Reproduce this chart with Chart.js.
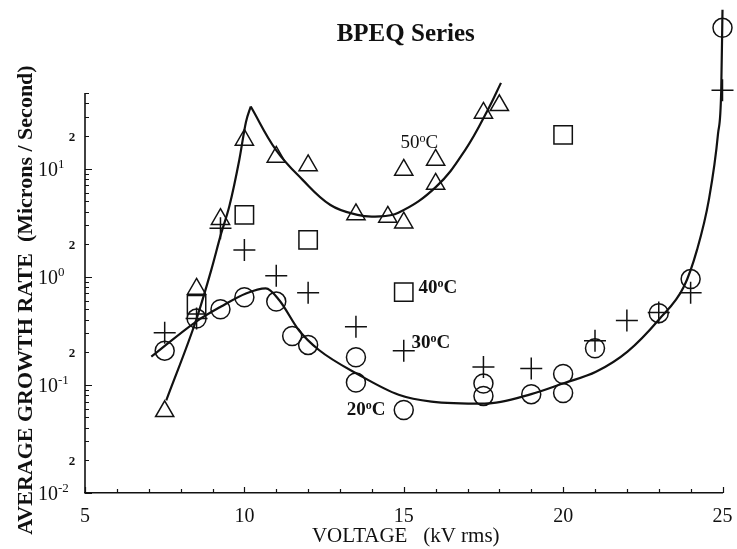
<!DOCTYPE html>
<html>
<head>
<meta charset="utf-8">
<title>BPEQ Series</title>
<script src="https://cdn.jsdelivr.net/npm/chart.js@4/dist/chart.umd.min.js"></script>
<style>
  html, body { margin: 0; padding: 0; background: #fff; }
  #wrap { width: 737px; height: 549px; }
</style>
</head>
<body>
<div id="wrap"><canvas id="growthChart" width="737" height="549"></canvas></div>
<script>
/* ===============================
   DATA
================================ */
// 50 C - triangles
const x50 = [7.5, 8.5, 9.25, 10, 11, 12, 13.5, 14.5, 15, 15, 16, 16, 17.5, 18];
const y50 = [0.057, 0.77, 3.4, 18.4, 12.8, 10.7, 3.77, 3.57, 3.16, 9.7, 12.0, 7.2, 32.7, 38.4];

// 40 C - squares
const x40 = [8.5, 10, 12, 15, 20];
const y40 = [0.55, 3.73, 2.19, 0.72, 20.5];

// 30 C - crosses
const x30 = [7.5, 8.5, 9.25, 10, 11, 12, 13.5, 15, 17.5, 19, 21, 22, 23, 24, 25];
const y30 = [0.304, 0.41, 2.8, 1.77, 1.02, 0.71, 0.345, 0.207, 0.146, 0.142, 0.256, 0.393, 0.466, 0.71, 53];

// 20 C - circles
const x20 = [7.5, 8.5, 9.25, 10, 11, 11.5, 12, 13.5, 13.5, 15, 17.5, 17.5, 19, 20, 20, 21, 23, 24, 25];
const y20 = [0.207, 0.41, 0.50, 0.646, 0.589, 0.283, 0.234, 0.18, 0.105, 0.0586, 0.103, 0.079, 0.082, 0.126, 0.084, 0.218, 0.46, 0.95, 200];

// fitted curves
const fit50LeftX = [7.55, 8.49, 8.96, 9.27, 9.53, 9.84, 10.05, 10.2];
const fit50LeftY = [0.072, 0.40, 1.15, 2.5, 4.5, 12, 27, 37.5];
const fit50RightX = [10.2, 10.99, 11.82, 12.7, 13.55, 14.1, 14.83, 16.02, 16.93, 17.64, 18.05];
const fit50RightY = [37.5, 14.9, 7.9, 4.6, 3.73, 3.6, 3.9, 6.8, 14.9, 35, 62];
const fit20X = [7.08, 8.49, 9.27, 10.05, 10.67, 11.09, 11.71, 12.34, 13.59, 14.84, 15.87, 17.54,
                19.0, 20.04, 21.03, 22.02, 23.0, 23.79, 24.2, 24.57, 24.86, 24.96, 25.0];
const fit20Y = [0.182, 0.385, 0.53, 0.70, 0.78, 0.61, 0.32, 0.21, 0.124, 0.081, 0.070, 0.067,
                0.082, 0.104, 0.132, 0.203, 0.40, 0.81, 1.77, 5.1, 21, 53, 294];

// axes
const xTickLabels = [5, 10, 15, 20, 25];
const yDecades = [-2, -1, 0, 1];
const yMin = 0.01;
const yAxisTop = 50;     // where the drawn axis stops
const yScaleMax = 252;   // room above the axis for the off-scale points

// in-plot series labels: [main, x, y]
const seriesLabels = [["50", 14.9, 15.6], ["40", 15.46, 0.71], ["30", 15.24, 0.22], ["20", 13.21, 0.0527]];

const titleText = "BPEQ Series";
const xTitle = "VOLTAGE   (kV rms)";
const yTitle = "AVERAGE GROWTH RATE  (Microns / Second)";

/* ===============================
   HELPERS
================================ */
const INK = "#111";
const SERIF = '"Liberation Serif", "DejaVu Serif", serif';
const toXY = (xs, ys) => xs.map((v, i) => ({ x: v, y: ys[i] }));

function markers(xs, ys, style, radius) {
    return {
        data: toXY(xs, ys),
        pointStyle: style,
        pointRadius: radius,
        pointBorderColor: INK,
        pointBackgroundColor: "rgba(0,0,0,0)",
        pointBorderWidth: 1.5,
        showLine: false,
        clip: false
    };
}

function curve(xs, ys, mode) {
    return {
        data: toXY(xs, ys),
        showLine: true,
        borderColor: INK,
        borderWidth: 2.2,
        pointRadius: 0,
        cubicInterpolationMode: mode,
        tension: 0.4,
        clip: false
    };
}

// draw a run of text pieces, each with own size / weight / raise
function pieces(ctx, parts, x, y) {
    let cx = x;
    ctx.textAlign = "left";
    ctx.textBaseline = "alphabetic";
    parts.forEach(p => {
        ctx.font = `${p.w || "normal"} ${p.s}px ${SERIF}`;
        ctx.fillText(p.t, cx, y - (p.up || 0));
        cx += ctx.measureText(p.t).width;
    });
}

/* ===============================
   DECORATION PLUGIN
================================ */
const decorations = {
    id: "decorations",
    afterDraw(chart) {
        const { ctx, chartArea: a, scales: { x, y } } = chart;
        ctx.save();
        ctx.fillStyle = INK;
        ctx.strokeStyle = INK;

        // y axis line, only up to yAxisTop
        ctx.lineWidth = 1.6;
        ctx.beginPath();
        ctx.moveTo(a.left, a.bottom);
        ctx.lineTo(a.left, Math.round(y.getPixelForValue(yAxisTop)));
        ctx.stroke();

        // y ticks (inside), minor every m*10^d
        ctx.lineWidth = 1.2;
        ctx.beginPath();
        yDecades.forEach(d => {
            for (let m = 1; m <= 9; m++) {
                const v = m * Math.pow(10, d);
                if (v > yAxisTop + 1e-9) continue;
                const py = Math.round(y.getPixelForValue(v)) + 0.5;
                ctx.moveTo(a.left, py);
                ctx.lineTo(a.left + (m === 1 ? 7 : 4), py);
            }
        });
        // x ticks (inside), every unit
        for (let v = 5; v <= 25; v++) {
            const px = Math.round(x.getPixelForValue(v)) + 0.5;
            ctx.moveTo(px, a.bottom);
            ctx.lineTo(px, a.bottom - (v % 5 === 0 ? 6 : 4));
        }
        ctx.stroke();

        // y tick labels: 10^d and the little "2"
        yDecades.forEach(d => {
            const py = y.getPixelForValue(Math.pow(10, d));
            pieces(ctx, [{ t: "10", s: 20 }, { t: String(d), s: 13, up: 8 }], 38, py + 7);
            const p2 = y.getPixelForValue(2 * Math.pow(10, d));
            ctx.font = `bold 13px ${SERIF}`;
            ctx.textAlign = "center";
            ctx.fillText("2", 72, p2 + 5);
        });

        // x tick labels
        ctx.font = `20px ${SERIF}`;
        ctx.textAlign = "center";
        xTickLabels.forEach(v => ctx.fillText(String(v), x.getPixelForValue(v), 522));

        // axis titles
        const cx = (a.left + a.right) / 2;
        ctx.font = `21px ${SERIF}`;
        ctx.fillText(xTitle, cx + 2, 542);

        ctx.save();
        ctx.translate(32, 300);
        ctx.rotate(-Math.PI / 2);
        ctx.font = `bold 22px ${SERIF}`;
        ctx.textAlign = "center";
        ctx.fillText(yTitle, 0, 0);
        ctx.restore();

        // chart title
        ctx.font = `bold 25px ${SERIF}`;
        ctx.textAlign = "center";
        ctx.fillText(titleText, cx + 2, 41);

        // series labels inside the plot
        seriesLabels.forEach(([t, vx, vy], i) => {
            const w = i === 0 ? "normal" : "bold";
            pieces(ctx, [{ t: t, s: 19, w: w }, { t: "o", s: 12, w: w, up: 6 }, { t: "C", s: 19, w: w }],
                x.getPixelForValue(vx), y.getPixelForValue(vy));
        });

        ctx.restore();
    }
};

/* ===============================
   CHART
================================ */
document.addEventListener("DOMContentLoaded", () => {
    const ctx = document.getElementById("growthChart").getContext("2d");

    new Chart(ctx, {
        type: "scatter",
        data: {
            datasets: [
                curve(fit50LeftX, fit50LeftY, "monotone"),
                curve(fit50RightX, fit50RightY, "default"),
                curve(fit20X, fit20Y, "monotone"),
                markers(x50, y50, "triangle", 10.5),
                markers(x40, y40, "rect", 13),
                markers(x30, y30, "cross", 11),
                markers(x20, y20, "circle", 9.5)
            ]
        },
        options: {
            responsive: false,
            animation: false,
            events: [],
            layout: { padding: { left: 85, right: 11, top: 17, bottom: 56 } },
            plugins: {
                legend: { display: false },
                title: { display: false },
                tooltip: { enabled: false }
            },
            scales: {
                x: {
                    type: "linear",
                    min: 5,
                    max: 25,
                    grid: { display: false, drawTicks: false },
                    border: { display: true, color: INK, width: 1.6 },
                    ticks: { display: false }
                },
                y: {
                    type: "logarithmic",
                    min: yMin,
                    max: yScaleMax,
                    grid: { display: false, drawTicks: false },
                    border: { display: false },
                    ticks: { display: false }
                }
            }
        },
        plugins: [decorations]
    });
});
</script>
</body>
</html>
